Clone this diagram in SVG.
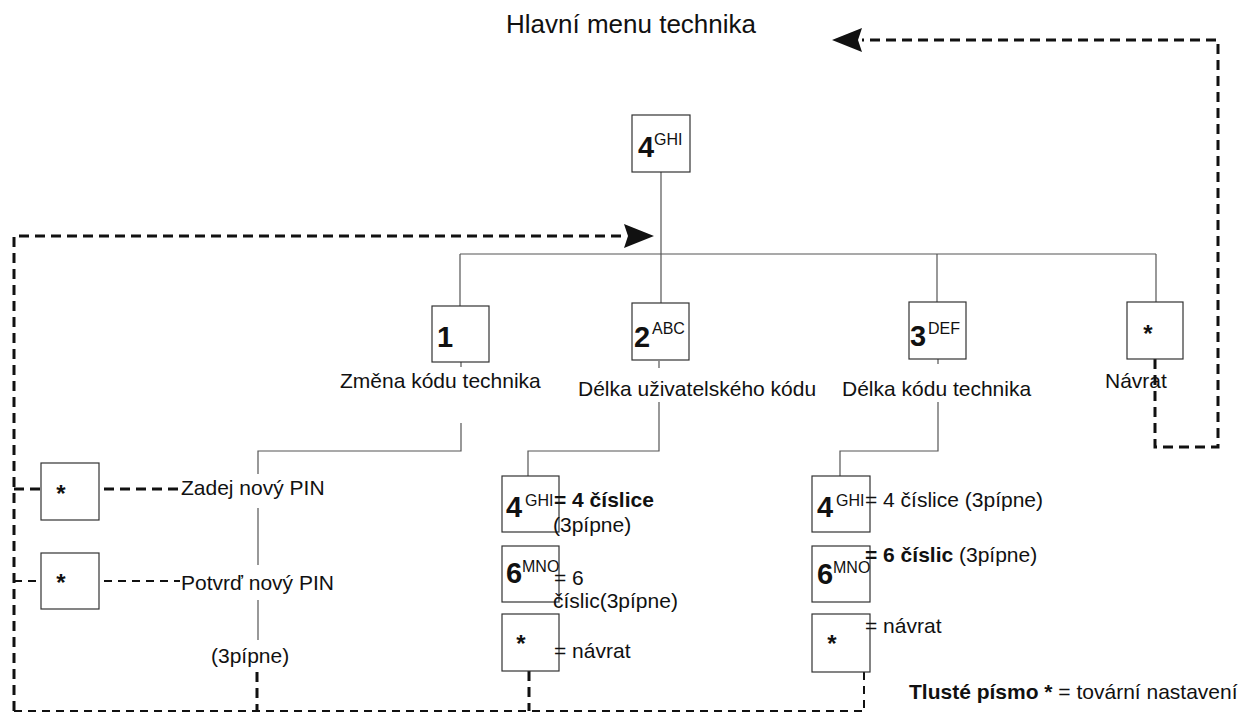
<svg xmlns="http://www.w3.org/2000/svg" width="1250" height="713" viewBox="0 0 1250 713">
<defs>
<style>
text{font-family:"Liberation Sans",Arial,Helvetica,sans-serif;fill:#111}
.lbl{font-size:21px}
.b{font-weight:bold}
.title{font-size:26px}
.dig{font-size:29px;font-weight:bold}
.sup{font-size:16px}
.star{font-size:24px;font-weight:bold;text-anchor:middle}
.box{fill:#fff;stroke:#333;stroke-width:1.2}
.ln{fill:none;stroke:#555;stroke-width:1.2}
.dk{fill:none;stroke:#111;stroke-width:3;stroke-dasharray:10 6}
.dt{fill:none;stroke:#111;stroke-width:2;stroke-dasharray:8 6}
</style>
<marker id="ah" markerUnits="userSpaceOnUse" markerWidth="32" markerHeight="26" refX="0" refY="12" orient="auto">
<path d="M0,0 L30,12 L0,24 L4,12 z" fill="#111"/>
</marker>
</defs>
<rect width="1250" height="713" fill="#fff"/>
<text class="title" x="506" y="33">Hlavní menu technika</text>

<g id="connectors">
<path class="ln" d="M661,172 V303 M460,254 H1156 M460,254 V306 M937,254 V302 M1156,254 V302"/>
<path class="ln" d="M461,362 V367 M461,423 V451 H258 V474 M258,508 V565 M258,600 V640"/>
<path class="ln" d="M659,361 V368 M659,402 V451 H528 V476"/>
<path class="ln" d="M938,359 V364 M938,402 V451 H840 V476"/>
<path class="dk" d="M1155,359 V447 H1218 V40 H862" marker-end="url(#ah)"/>
<path class="dk" d="M14,711 V236 H624" marker-end="url(#ah)"/>
<path class="dt" d="M14,711 H864"/>
<path class="dk" d="M257,672 V711"/>
<path class="dk" d="M529,671 V711"/>
<path class="dt" d="M864,672 V711"/>
<path class="dk" d="M14,489 H41 M104,489 H180"/>
<path class="dt" d="M14,581 H41 M104,581 H180"/>
</g>

<g id="n-top">
<rect class="box" x="632" y="115" width="58" height="57"/>
<text class="dig" x="638" y="157">4</text><text class="sup" x="654" y="145">GHI</text>
</g>
<g id="n-1">
<rect class="box" x="432" y="306" width="57" height="56"/>
<text class="dig" x="437" y="347">1</text>
<text class="lbl" x="340" y="388">Změna kódu technika</text>
</g>
<g id="n-2">
<rect class="box" x="632" y="303" width="57" height="57"/>
<text class="dig" x="634" y="347">2</text><text class="sup" x="652" y="334">ABC</text>
<text class="lbl" x="578" y="396">Délka uživatelského kódu</text>
</g>
<g id="n-3">
<rect class="box" x="909" y="302" width="57" height="57"/>
<text class="dig" x="910" y="346">3</text><text class="sup" x="928" y="334">DEF</text>
<text class="lbl" x="842" y="396">Délka kódu technika</text>
</g>
<g id="n-star-top">
<rect class="box" x="1127" y="302" width="56" height="57"/>
<text class="star" x="1148" y="342">*</text>
<text class="lbl" x="1105" y="388">Návrat</text>
</g>

<g id="n-left1">
<rect class="box" x="41" y="463" width="58" height="57"/>
<text class="star" x="61" y="502">*</text>
<text class="lbl" x="181" y="495">Zadej nový PIN</text>
</g>
<g id="n-left2">
<rect class="box" x="41" y="553" width="58" height="56"/>
<text class="star" x="61" y="591">*</text>
<text class="lbl" x="181" y="590">Potvrď nový PIN</text>
</g>
<text class="lbl" x="211" y="663">(3pípne)</text>

<g id="n-m4">
<rect class="box" x="502" y="476" width="57" height="56"/>
<text class="dig" x="506" y="517">4</text><text class="sup" x="525" y="506">GHI</text>
<text class="lbl b" x="554" y="507">= 4 číslice</text>
<text class="lbl" x="553" y="532">(3pípne)</text>
</g>
<g id="n-m6">
<rect class="box" x="502" y="546" width="57" height="56"/>
<text class="dig" x="506" y="583">6</text><text class="sup" x="522" y="572">MNO</text>
<text class="lbl" x="554" y="585">= 6</text>
<text class="lbl" x="553" y="608">číslic(3pípne)</text>
</g>
<g id="n-mstar">
<rect class="box" x="502" y="614" width="57" height="57"/>
<text class="star" x="521" y="652">*</text>
<text class="lbl" x="554" y="658">= návrat</text>
</g>

<g id="n-r4">
<rect class="box" x="812" y="476" width="58" height="56"/>
<text class="dig" x="817" y="517">4</text><text class="sup" x="836" y="506">GHI</text>
<text class="lbl" x="865" y="507">= 4 číslice (3pípne)</text>
</g>
<g id="n-r6">
<rect class="box" x="812" y="546" width="58" height="56"/>
<text class="dig" x="817" y="584">6</text><text class="sup" x="833" y="573">MNO</text>
<text class="lbl" x="865" y="562"><tspan class="b">= 6 číslic</tspan> (3pípne)</text>
</g>
<g id="n-rstar">
<rect class="box" x="812" y="614" width="58" height="58"/>
<text class="star" x="832" y="652">*</text>
<text class="lbl" x="865" y="633">= návrat</text>
</g>

<text class="lbl" x="909" y="699"><tspan class="b">Tlusté písmo *</tspan> = tovární nastavení</text>
</svg>
